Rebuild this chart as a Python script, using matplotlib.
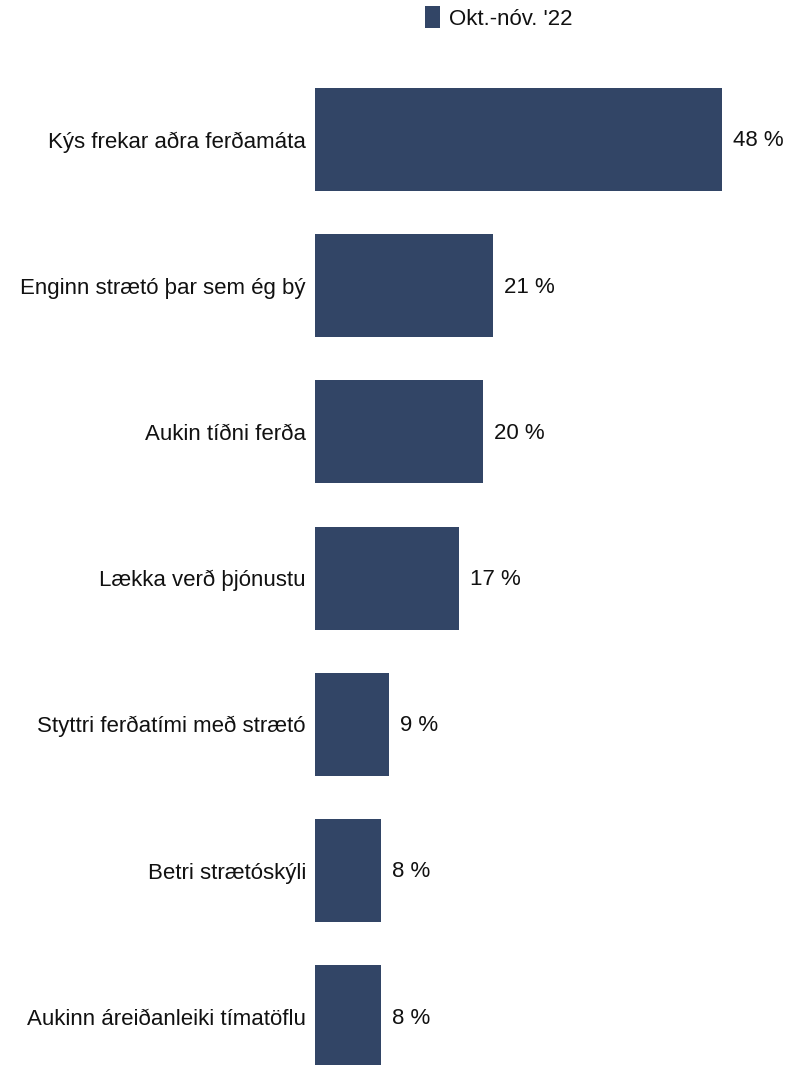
import matplotlib.pyplot as plt
from matplotlib.patches import Patch

# Data
categories = [
    "Kýs frekar aðra ferðamáta",
    "Enginn strætó þar sem ég bý",
    "Aukin tíðni ferða",
    "Lækka verð þjónustu",
    "Styttri ferðatími með strætó",
    "Betri strætóskýli",
    "Aukinn áreiðanleiki tímatöflu",
]
values = [48.0, 21.0, 19.8, 17.0, 8.7, 7.8, 7.8]
labels = ["48 %", "21 %", "20 %", "17 %", "9 %", "8 %", "8 %"]
series_name = "Okt.-nóv. '22"

BAR_COLOR = "#324566"
TXT = "#111111"
FS = 16
plt.rcParams["font.family"] = ["Liberation Sans", "DejaVu Sans"]

W, H = 786, 1065
fig = plt.figure(figsize=(W / 100, H / 100), dpi=100)

# axes placed so bars line up with the reference (last bar runs off the bottom)
left, top_px, bottom_px = 315, 66.4, 1089.8
ax = fig.add_axes([left / W, (H - bottom_px) / H, 466 / W, (bottom_px - top_px) / H])

pos = list(range(len(categories)))
ax.barh(pos, values, height=0.705, color=BAR_COLOR)
ax.set_ylim(len(categories) - 0.5, -0.5)
ax.set_xlim(0, 55)

for p, v, lab in zip(pos, values, labels):
    ax.annotate(lab, (v, p), xytext=(8, -1), textcoords="offset points",
                va="center", ha="left", fontsize=FS, color=TXT)

ax.set_yticks(pos)
ax.set_yticklabels(categories, fontsize=FS, color=TXT)
ax.tick_params(axis="y", length=0, pad=6.5)
ax.set_xticks([])
for s in ax.spines.values():
    s.set_visible(False)

handle = Patch(facecolor=BAR_COLOR, edgecolor="none")
fig.legend([handle], [series_name], loc="center left",
           bbox_to_anchor=(425 / W, 1 - 18 / H), frameon=False,
           borderpad=0, borderaxespad=0,
           fontsize=FS, handlelength=0.68, handleheight=1.08,
           handletextpad=0.4, labelcolor=TXT)

fig.savefig("out.png", dpi=100)
